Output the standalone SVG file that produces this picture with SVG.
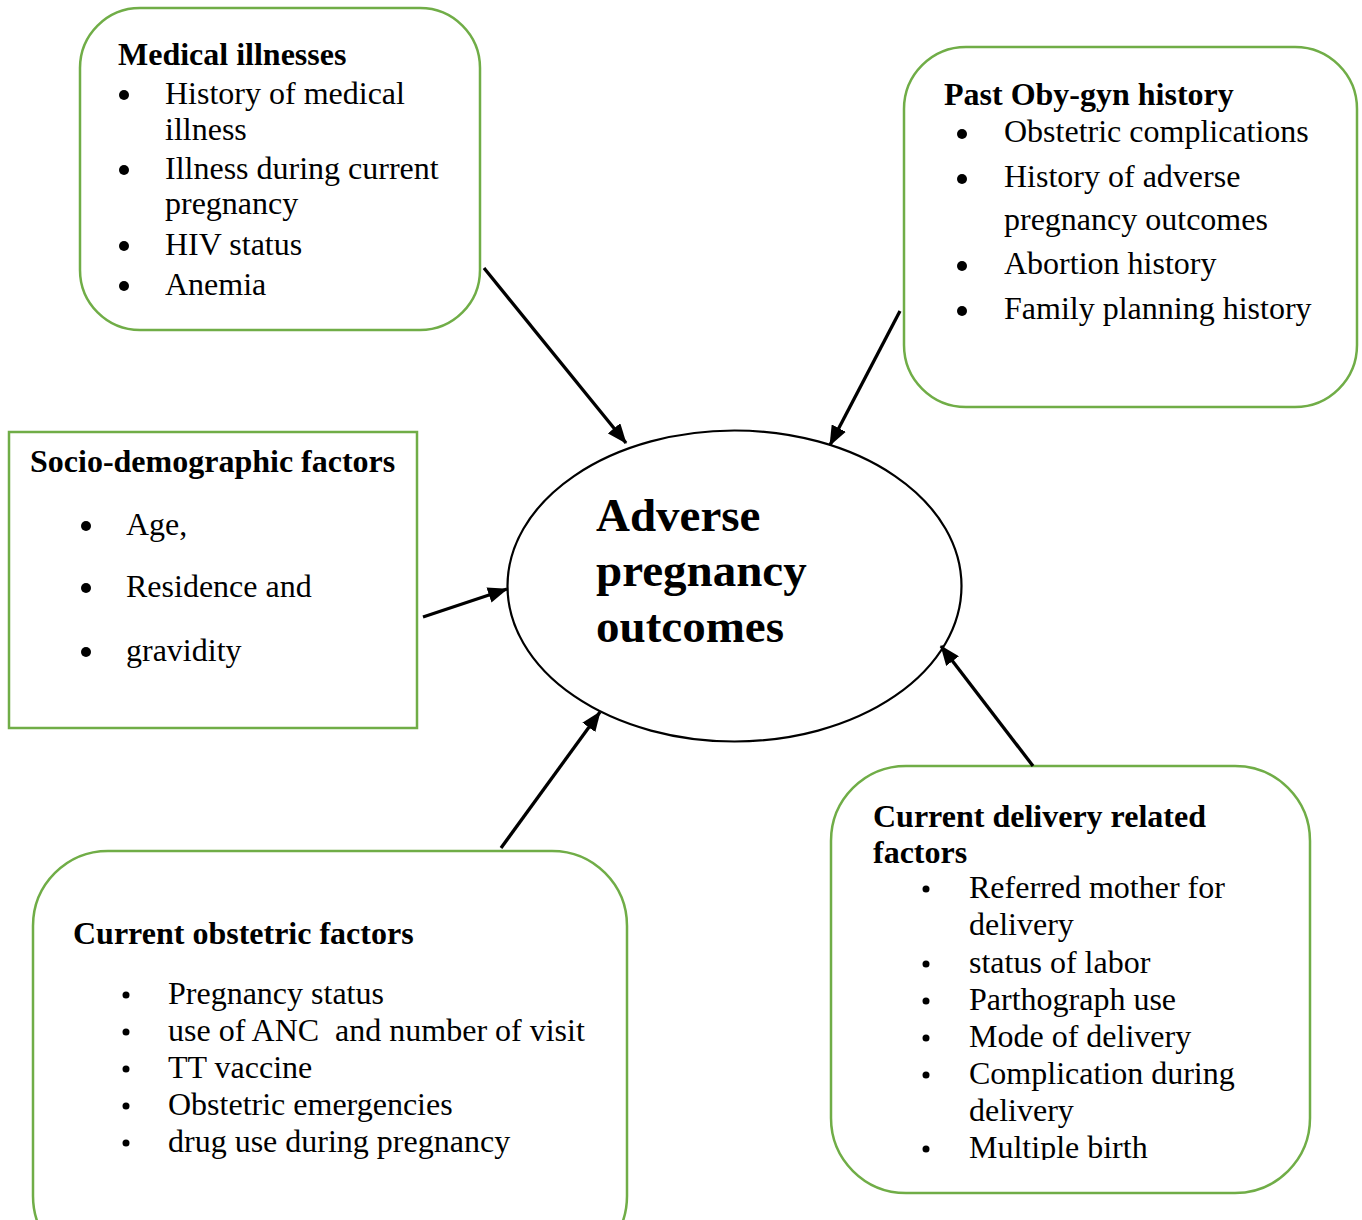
<svg xmlns="http://www.w3.org/2000/svg" width="1362" height="1220" viewBox="0 0 1362 1220">
<style>
.box{fill:#fff;stroke:#70AD47;stroke-width:2.5}
.t{font-family:"Liberation Serif","Times New Roman",serif;font-size:32px;fill:#000}
.b{font-weight:bold}
.big{font-family:"Liberation Serif","Times New Roman",serif;font-size:47px;font-weight:bold;fill:#000}
.conn{stroke:#000;stroke-width:3.3;fill:none;marker-end:url(#ah)}
</style>
<defs>
<marker id="ah" markerUnits="userSpaceOnUse" markerWidth="20" markerHeight="16" refX="19" refY="8" orient="auto">
<path d="M0,0 L20,8 L0,16 z" fill="#000"/>
</marker>
<clipPath id="clipDel"><rect x="820" y="760" width="500" height="400"/></clipPath>
</defs>
<rect width="1362" height="1220" fill="#fff"/>

<g id="node-medical">
<rect class="box" x="80" y="8" width="400" height="322" rx="60" ry="60"/>
<text class="t b" x="118" y="65">Medical illnesses</text>
<circle cx="124" cy="95" r="5"/>
<text class="t" x="165" y="104">History of medical</text>
<text class="t" x="165" y="140">illness</text>
<circle cx="124" cy="170" r="5"/>
<text class="t" x="165" y="179">Illness during current</text>
<text class="t" x="165" y="214">pregnancy</text>
<circle cx="124" cy="246" r="5"/>
<text class="t" x="165" y="255">HIV status</text>
<circle cx="124" cy="286" r="5"/>
<text class="t" x="165" y="295">Anemia</text>
</g>

<g id="node-pastobgyn">
<rect class="box" x="904" y="47" width="453" height="360" rx="62" ry="62"/>
<text class="t b" x="944" y="105">Past Oby-gyn history</text>
<circle cx="962" cy="134" r="5"/>
<text class="t" x="1004" y="142">Obstetric complications</text>
<circle cx="962" cy="179" r="5"/>
<text class="t" x="1004" y="187">History of adverse</text>
<text class="t" x="1004" y="230">pregnancy outcomes</text>
<circle cx="962" cy="266" r="5"/>
<text class="t" x="1004" y="274">Abortion history</text>
<circle cx="962" cy="311" r="5"/>
<text class="t" x="1004" y="319">Family planning history</text>
</g>

<g id="node-socio">
<rect class="box" x="9" y="432" width="408" height="296"/>
<text class="t b" x="30" y="472">Socio-demographic factors</text>
<circle cx="86" cy="526" r="5"/>
<text class="t" x="126" y="535">Age,</text>
<circle cx="86" cy="588" r="5"/>
<text class="t" x="126" y="597">Residence and</text>
<circle cx="86" cy="652" r="5"/>
<text class="t" x="126" y="661">gravidity</text>
</g>

<g id="node-outcome">
<ellipse cx="734.5" cy="586" rx="227" ry="155.5" fill="#fff" stroke="#000" stroke-width="2.2"/>
<text class="big" x="596" y="531">Adverse</text>
<text class="big" x="596" y="586">pregnancy</text>
<text class="big" x="596" y="642">outcomes</text>
</g>

<g id="node-obstetric">
<rect class="box" x="33" y="851" width="594" height="420" rx="75" ry="75"/>
<text class="t b" x="73" y="944">Current obstetric factors</text>
<circle cx="126" cy="995" r="3.5"/>
<text class="t" x="168" y="1004">Pregnancy status</text>
<circle cx="126" cy="1032" r="3.5"/>
<text class="t" x="168" y="1041" xml:space="preserve">use of ANC  and number of visit</text>
<circle cx="126" cy="1069" r="3.5"/>
<text class="t" x="168" y="1078">TT vaccine</text>
<circle cx="126" cy="1106" r="3.5"/>
<text class="t" x="168" y="1115">Obstetric emergencies</text>
<circle cx="126" cy="1143" r="3.5"/>
<text class="t" x="168" y="1152">drug use during pregnancy</text>
</g>

<g id="node-delivery">
<rect class="box" x="831" y="766" width="479" height="427" rx="75" ry="75"/>
<text class="t b" x="873" y="827">Current delivery related</text>
<text class="t b" x="873" y="863">factors</text>
<circle cx="926" cy="889" r="3.5"/>
<text class="t" x="969" y="898">Referred mother for</text>
<text class="t" x="969" y="935">delivery</text>
<circle cx="926" cy="964" r="3.5"/>
<text class="t" x="969" y="973">status of labor</text>
<circle cx="926" cy="1001" r="3.5"/>
<text class="t" x="969" y="1010">Parthograph use</text>
<circle cx="926" cy="1038" r="3.5"/>
<text class="t" x="969" y="1047">Mode of delivery</text>
<circle cx="926" cy="1075" r="3.5"/>
<text class="t" x="969" y="1084">Complication during</text>
<text class="t" x="969" y="1121">delivery</text>
<circle cx="926" cy="1149" r="3.5"/>
<text class="t" x="969" y="1158" clip-path="url(#clipDel)">Multiple birth</text>
</g>

<g id="connectors">
<line class="conn" x1="484" y1="268" x2="626" y2="443"/>
<line class="conn" x1="900" y1="311" x2="830" y2="445"/>
<line class="conn" x1="423" y1="617" x2="507" y2="589"/>
<line class="conn" x1="501" y1="848" x2="600" y2="712"/>
<line class="conn" x1="1033" y1="766" x2="941" y2="646"/>
</g>
</svg>
